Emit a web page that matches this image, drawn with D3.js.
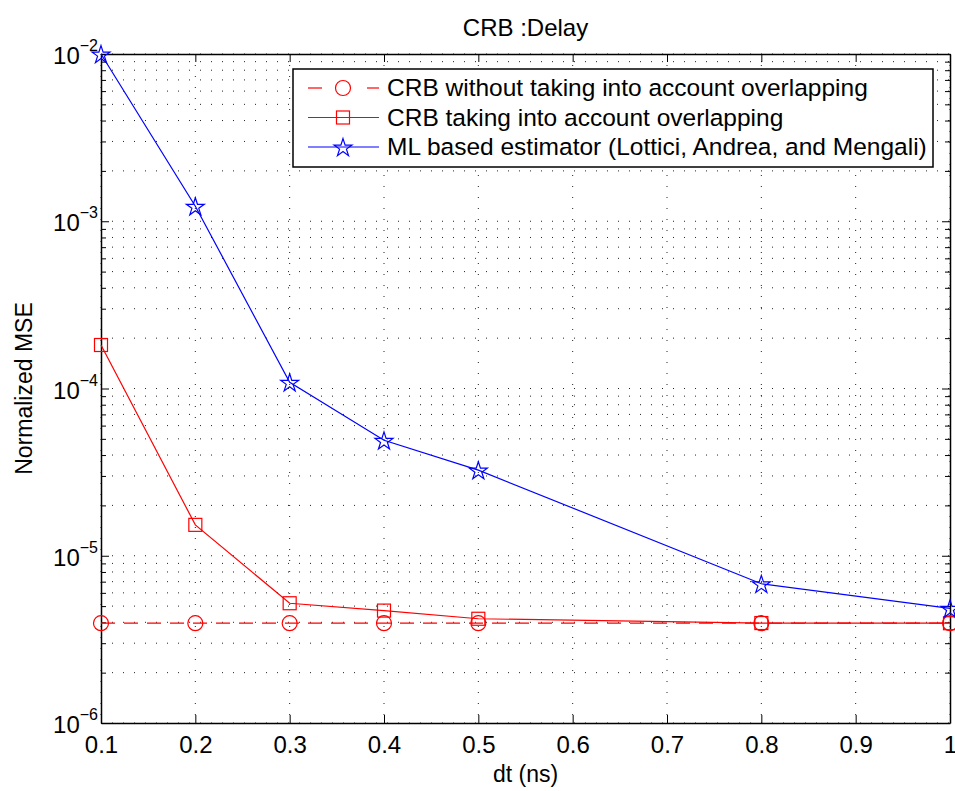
<!DOCTYPE html>
<html lang="en">
<head>
<meta charset="UTF-8">
<script src="https://d3js.org/d3.v7.min.js"></script>
<style>
  body { margin: 0; background: #fff; }
  svg text { font-family: "Liberation Sans", Arial, sans-serif; fill: #000; }
</style>
</head>
<body>
<div id="chart"></div>
<script>
// data
const dt = [0.1, 0.2, 0.3, 0.4, 0.5, 0.8, 1.0];
const crbNoOverlap = [3.95e-6, 3.95e-6, 3.95e-6, 3.95e-6, 3.95e-6, 3.95e-6, 3.95e-6];
const crbOverlap = [1.82e-4, 1.53e-5, 5.2e-6, 4.7e-6, 4.2e-6, 3.96e-6, 3.95e-6];
const mlEstimator = [1.0e-2, 1.23e-3, 1.09e-4, 4.9e-5, 3.25e-5, 6.8e-6, 4.85e-6];
const xTicks = [0.1, 0.2, 0.3, 0.4, 0.5, 0.6, 0.7, 0.8, 0.9, 1];
const yDecades = [-6, -5, -4, -3, -2];
const legendLabels = [
  "CRB without taking into account overlapping",
  "CRB taking into account overlapping",
  "ML based estimator (Lottici, Andrea, and Mengali)"
];

const W = 955, H = 791;
const margin = {top: 54, right: 5, bottom: 68, left: 101};
const width = W - margin.left - margin.right,
      height = H - margin.top - margin.bottom;

const svg = d3.select("#chart").append("svg")
  .attr("width", W).attr("height", H);
const g = svg.append("g")
  .attr("transform", "translate(" + margin.left + "," + margin.top + ")");

const x = d3.scaleLinear().domain([0.1, 1]).range([0, width]);
const y = d3.scaleLog().domain([1e-6, 1e-2]).range([height, 0]);

// minor log values
const minorY = [];
yDecades.slice(0, -1).forEach(function (e) {
  for (let k = 2; k <= 9; k++) minorY.push(k * Math.pow(10, e));
});
const allY = minorY.concat(yDecades.map(e => Math.pow(10, e)));

// grid (dotted)
g.append("g").selectAll("line").data(allY).enter().append("line")
  .attr("x1", 0).attr("x2", width)
  .attr("y1", d => y(d)).attr("y2", d => y(d))
  .attr("stroke", "#222").attr("stroke-width", 1)
  .attr("stroke-dasharray", "1,10");
g.append("g").selectAll("line").data(xTicks).enter().append("line")
  .attr("x1", d => x(d)).attr("x2", d => x(d))
  .attr("y1", 0).attr("y2", height)
  .attr("stroke", "#222").attr("stroke-width", 1)
  .attr("stroke-dasharray", "1,10");

// axes with inner ticks on all four sides
const fmtX = d => d === 1 ? "1" : d3.format(".1f")(d);
const xb = g.append("g").attr("transform", "translate(0," + height + ")")
  .call(d3.axisBottom(x).tickValues(xTicks).tickFormat(fmtX).tickSizeInner(-8).tickSizeOuter(0));
const xt = g.append("g")
  .call(d3.axisTop(x).tickValues(xTicks).tickFormat("").tickSizeInner(-8).tickSizeOuter(0));
const yl = g.append("g")
  .call(d3.axisLeft(y).tickValues(allY).tickFormat("").tickSizeOuter(0)
    .tickSizeInner(-5));
const yr = g.append("g").attr("transform", "translate(" + width + ",0)")
  .call(d3.axisRight(y).tickValues(allY).tickFormat("").tickSizeOuter(0)
    .tickSizeInner(-5));
[yl, yr].forEach(function (ax) {
  ax.selectAll(".tick line").filter(d => yDecades.some(e => Math.abs(Math.log10(d) - e) < 1e-9))
    .attr("x2", ax === yl ? 8 : -8);
});
[xb, xt, yl, yr].forEach(function (ax) {
  ax.select(".domain").attr("stroke", "#000").attr("stroke-width", 1.5);
  ax.selectAll(".tick line").attr("stroke", "#000").attr("stroke-width", 1);
});
xb.selectAll(".tick text").attr("y", 30).attr("dy", null).style("font-size", "24px");

// y decade labels 10^e
const ylab = g.append("g").selectAll("text").data(yDecades).enter().append("text")
  .attr("x", -3).attr("y", d => y(Math.pow(10, d)) + 10)
  .attr("text-anchor", "end").style("font-size", "24px");
ylab.append("tspan").text("10");
ylab.append("tspan").attr("dy", -13).style("font-size", "16px")
  .text(d => "\u2212" + Math.abs(d));

// series
const line = d3.line().x(d => x(d[0])).y(d => y(d[1]));
const red = "#ff0000", blue = "#0000ff";
const series = [
  {vals: crbNoOverlap, color: red, dash: "14,9", marker: "circle"},
  {vals: crbOverlap, color: red, dash: null, marker: "square"},
  {vals: mlEstimator, color: blue, dash: null, marker: "star"}
];

const star = d3.symbol().type(d3.symbolStar).size(100);
function drawMarker(sel, type, color) {
  if (type === "circle") {
    sel.append("circle").attr("r", 7.5).attr("fill", "none").attr("stroke", color).attr("stroke-width", 1.2);
  } else if (type === "square") {
    sel.append("rect").attr("x", -6.5).attr("y", -6.5).attr("width", 13).attr("height", 13)
      .attr("fill", "none").attr("stroke", color).attr("stroke-width", 1.2);
  } else {
    sel.append("path").attr("d", star).attr("transform", "translate(0,1)")
      .attr("fill", "none").attr("stroke", color).attr("stroke-width", 1.2);
  }
}

series.forEach(function (s) {
  const pts = dt.map((d, i) => [d, s.vals[i]]);
  g.append("path").datum(pts).attr("d", line)
    .attr("fill", "none").attr("stroke", s.color).attr("stroke-width", 1.2)
    .attr("stroke-dasharray", s.dash);
  g.append("g").selectAll("g").data(pts).enter().append("g")
    .attr("transform", d => "translate(" + x(d[0]) + "," + y(d[1]) + ")")
    .each(function () { drawMarker(d3.select(this), s.marker, s.color); });
});

// legend
const lg = svg.append("g").attr("transform", "translate(293,69)");
lg.append("rect").attr("width", 640).attr("height", 98)
  .attr("fill", "#fff").attr("stroke", "#000").attr("stroke-width", 1.5);
series.forEach(function (s, i) {
  const row = lg.append("g").attr("transform", "translate(0," + (19 + i * 29.5) + ")");
  if (s.dash) {
    row.append("line").attr("x1", 15).attr("x2", 29).attr("stroke", s.color).attr("stroke-width", 1.2);
    row.append("line").attr("x1", 74).attr("x2", 86).attr("stroke", s.color).attr("stroke-width", 1.2);
  } else {
    row.append("line").attr("x1", 15).attr("x2", 86).attr("stroke", s.color).attr("stroke-width", 1.2);
  }
  drawMarker(row.append("g").attr("transform", "translate(50,0)"), s.marker, s.color);
  row.append("text").attr("x", 94).attr("y", 8).style("font-size", "24.5px").text(legendLabels[i]);
});

// title & axis labels
svg.append("text").attr("x", margin.left + width / 2).attr("y", 36)
  .attr("text-anchor", "middle").style("font-size", "24px").text("CRB :Delay");
svg.append("text").attr("x", margin.left + width / 2).attr("y", 782)
  .attr("text-anchor", "middle").style("font-size", "23px").text("dt (ns)");
svg.append("text").attr("transform", "translate(32," + (margin.top + height / 2) + ") rotate(-90)")
  .attr("text-anchor", "middle").style("font-size", "23px").text("Normalized MSE");
</script>
</body>
</html>
